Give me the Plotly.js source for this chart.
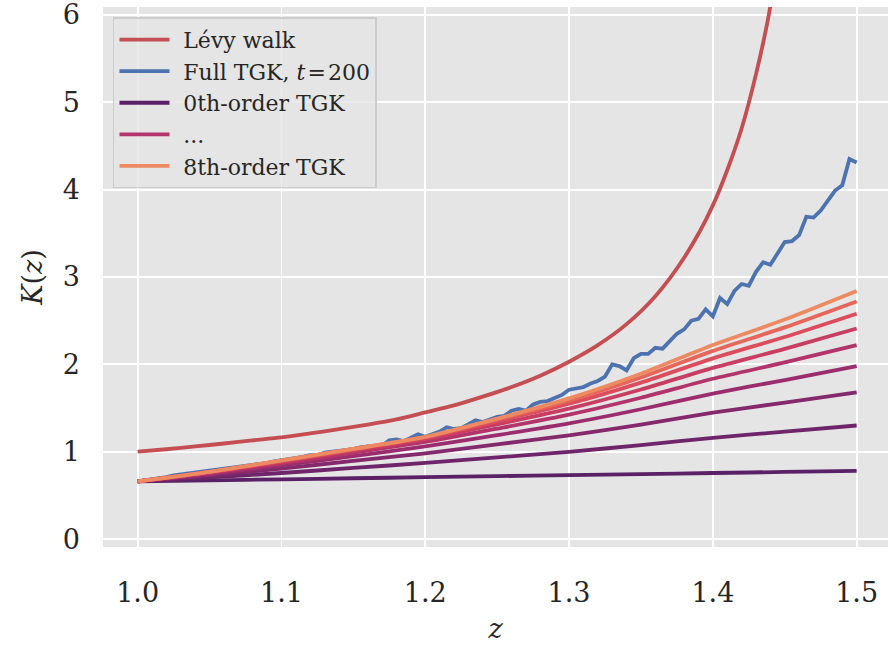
<!DOCTYPE html>
<html>
<head>
<meta charset="utf-8">
<script src="https://cdn.plot.ly/plotly-3.0.1.min.js"></script>
<style>html,body{margin:0;padding:0;background:#fff;}#chart{width:888px;height:654px;}</style>
</head>
<body>
<div id="chart"></div>
<script>
// ---- data ----
const levyZ = [1.00,1.02,1.04,1.06,1.08,1.10,1.12,1.14,1.16,1.18,1.20,1.22,1.24,1.26,1.28,1.30,1.32,1.34,1.36,1.38,1.40,1.42,1.44,1.46];
const levyK = [1.000,1.028,1.060,1.094,1.130,1.165,1.210,1.258,1.310,1.370,1.450,1.530,1.630,1.740,1.870,2.030,2.220,2.460,2.780,3.220,3.820,4.700,6.100,9.000];

const fullZ = [1.000,1.005,1.010,1.015,1.020,1.025,1.030,1.035,1.040,1.045,1.050,1.055,1.060,1.065,1.070,1.075,1.080,1.085,1.090,1.095,
1.100,1.105,1.110,1.115,1.120,1.125,1.130,1.135,1.140,1.145,1.150,1.155,1.160,1.165,1.170,1.175,1.180,1.185,1.190,1.195,
1.200,1.205,1.210,1.215,1.220,1.225,1.230,1.235,1.240,1.245,1.250,1.255,1.260,1.265,1.270,1.275,1.280,1.285,1.290,1.295,
1.300,1.305,1.310,1.315,1.320,1.325,1.330,1.335,1.340,1.345,1.350,1.355,1.360,1.365,1.370,1.375,1.380,1.385,1.390,1.395,
1.400,1.405,1.410,1.415,1.420,1.425,1.430,1.435,1.440,1.445,1.450,1.455,1.460,1.465,1.470,1.475,1.480,1.485,1.490,1.495,1.500];
const fullK = [0.66,0.67,0.69,0.70,0.71,0.73,0.74,0.75,0.76,0.77,0.78,0.79,0.81,0.82,0.83,0.84,0.85,0.86,0.87,0.89,
0.90,0.91,0.92,0.94,0.96,0.96,0.99,1.00,1.00,1.02,1.03,1.05,1.06,1.05,1.07,1.13,1.14,1.12,1.16,1.20,
1.17,1.20,1.23,1.28,1.26,1.27,1.32,1.36,1.34,1.37,1.40,1.41,1.47,1.49,1.47,1.54,1.57,1.58,1.62,1.65,
1.71,1.72,1.74,1.78,1.81,1.86,2.00,1.98,1.93,2.07,2.12,2.12,2.19,2.18,2.27,2.35,2.40,2.50,2.52,2.63,
2.55,2.76,2.69,2.84,2.92,2.90,3.06,3.17,3.14,3.28,3.40,3.41,3.48,3.69,3.68,3.76,3.88,3.99,4.05,4.35,4.31];

const orderZ = [1.00,1.05,1.10,1.15,1.20,1.25,1.30,1.35,1.40,1.45,1.50];
const order0 = [0.660,0.672,0.684,0.696,0.708,0.720,0.732,0.744,0.756,0.768,0.780];
const order1 = [0.660,0.705,0.756,0.814,0.871,0.935,0.999,1.076,1.159,1.230,1.300];
const order2 = [0.660,0.728,0.807,0.895,0.982,1.084,1.187,1.311,1.446,1.562,1.680];
const order3 = [0.660,0.744,0.843,0.950,1.060,1.189,1.324,1.486,1.666,1.820,1.980];
const order4 = [0.660,0.755,0.867,0.988,1.111,1.264,1.424,1.618,1.835,2.022,2.220];
const order5 = [0.660,0.763,0.882,1.010,1.141,1.313,1.493,1.712,1.960,2.177,2.410];
const order6 = [0.660,0.768,0.892,1.025,1.161,1.349,1.549,1.791,2.069,2.313,2.580];
const order7 = [0.660,0.769,0.899,1.031,1.171,1.369,1.585,1.849,2.154,2.423,2.720];
const order8 = [0.660,0.769,0.900,1.031,1.170,1.379,1.610,1.892,2.221,2.513,2.840];
const orders = [order0,order1,order2,order3,order4,order5,order6,order7,order8];
const orderNames = ['0th-order TGK','','','','...','','','','8th-order TGK'];

const xTicks = [1.0,1.1,1.2,1.3,1.4,1.5];
const xTickText = ['1.0','1.1','1.2','1.3','1.4','1.5'];
const yTicks = [0,1,2,3,4,5,6];

// ---- style ----
const orderColors = ['#5a2167','#6e2569','#84296c','#9b2d6e','#b3336b','#c93d63','#dc4c5c','#e8655b','#ee8a62'];
const FONT = 'DejaVu Serif, serif';
const LW = 3.8;
const PAD = '\u2009\u2009';

const traces = [];
traces.push({x: levyZ, y: levyK, mode:'lines', name: PAD+'Lévy walk',
  line:{color:'#c44e52', width:LW, shape:'spline', smoothing:0.8}});
traces.push({x: fullZ, y: fullK, mode:'lines', name: PAD+'Full TGK, <i>t</i>\u200a=\u200a200',
  line:{color:'#4c72b0', width:LW}});
orders.forEach((vals,i)=>{
  traces.push({x: orderZ, y: vals, mode:'lines', name: orderNames[i] ? PAD+orderNames[i] : ('order '+i),
    showlegend: orderNames[i] !== '',
    line:{color: orderColors[i], width:LW, shape:'spline', smoothing:0.6}});
});

const layout = {
  width: 888, height: 654,
  margin: {l:103, r:0, t:7, b:107},
  paper_bgcolor:'#ffffff', plot_bgcolor:'#e5e5e5',
  font:{family:FONT, color:'#262626'},
  showlegend:true,
  xaxis:{
    range:[0.9759,1.5218], tickvals:xTicks, ticktext:xTickText,
    showgrid:true, gridcolor:'#ffffff', gridwidth:1.8, zeroline:false, showline:false,
    ticks:'', ticklabelstandoff:27, ticklabeloverflow:'allow',
    tickfont:{family:FONT, size:27, color:'#262626'},
    title:{text:'<i>z</i>', font:{family:FONT, size:27, color:'#262626'}, standoff:12}
  },
  yaxis:{
    range:[-0.091,6.091], tickvals:yTicks,
    showgrid:true, gridcolor:'#ffffff', gridwidth:1.8, zeroline:false, showline:false,
    ticks:'', ticklabelstandoff:22, ticklabeloverflow:'allow',
    tickfont:{family:FONT, size:27, color:'#262626'},
    title:{text:'<i>K</i>(<i>z</i>)', font:{family:FONT, size:27, color:'#262626'}, standoff:12}
  },
  legend:{
    x:0.0127, y:0.981, xanchor:'left', yanchor:'top',
    bgcolor:'rgba(229,229,229,0.8)', bordercolor:'#cccccc', borderwidth:1.5,
    font:{family:FONT, size:22, color:'#262626'},
    itemwidth:50, tracegroupgap:0
  }
};

Plotly.newPlot('chart', traces, layout, {displayModeBar:false, staticPlot:true});
</script>
</body>
</html>
